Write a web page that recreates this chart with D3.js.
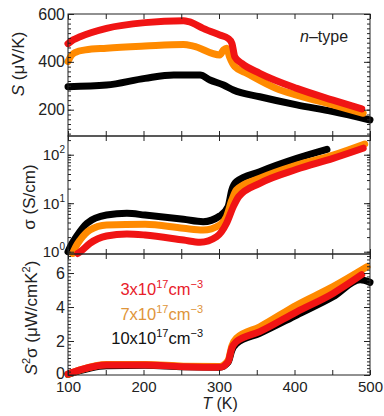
<!DOCTYPE html>
<html>
<head>
<meta charset="utf-8">
<script src="https://cdn.jsdelivr.net/npm/d3@7"></script>
<style>
  body { margin: 0; background: #fff; }
  svg { font-family: "Liberation Sans", Arial, Helvetica, sans-serif; }
  .tick text { font-size: 16px; fill: #222; }
  .tick line { stroke: #222; }
</style>
</head>
<body>
<div id="chart"></div>
<script>
// temperature axis (K)
const tempTicks = [100, 200, 300, 400, 500];

// Seebeck coefficient S (uV/K), one T array per sample
const seebeckT3 = [100, 107, 116, 151, 202, 253, 260, 279, 301, 312, 317, 321, 330, 354, 403, 451, 489];
const seebeck3 = [476, 492, 505, 540, 564, 572, 568, 540, 512, 498, 478, 421, 394, 352, 289, 240, 203];
const seebeckT7 = [100, 104, 110, 123, 151, 202, 253, 266, 301, 306, 310, 314, 321, 337, 376, 403, 451, 491];
const seebeck7 = [401, 425, 440, 450, 457, 466, 473, 466, 429, 450, 457, 421, 380, 352, 289, 261, 220, 185];
const seebeckT10 = [100, 151, 202, 240, 275, 288, 306, 319, 354, 403, 451, 500];
const seebeck10 = [296, 303, 331, 345, 345, 324, 303, 282, 254, 220, 192, 157];

// conductivity sigma (S/cm)
const sigmaT3 = [113, 117, 129, 151, 178, 202, 253, 275, 297, 310, 319, 326, 354, 403, 451, 491];
const sigma3 = [0.92, 1.02, 1.49, 2.11, 2.32, 2.21, 1.74, 1.56, 2.04, 3.85, 8.5, 13.6, 25.7, 50, 84, 136];
const sigmaT7 = [106, 110, 116, 129, 151, 202, 253, 279, 301, 310, 317, 323, 354, 403, 451, 493];
const sigma7 = [0.92, 1.25, 1.74, 2.8, 3.55, 3.67, 3.03, 2.8, 3.55, 5.3, 11.6, 18.7, 32.6, 61, 98, 166];
const sigmaT10 = [100, 105, 111, 125, 151, 178, 202, 253, 279, 301, 312, 317, 323, 354, 403, 443];
const sigma10 = [1.0, 1.45, 2.04, 3.85, 5.7, 6.2, 5.7, 4.66, 4.16, 5.45, 8.5, 18.7, 27.7, 44.7, 84, 129];

// power factor S^2 sigma (uW/cmK^2)
const pfT3 = [100, 116, 151, 202, 253, 301, 312, 317, 323, 354, 403, 451, 489];
const pf3 = [0.06, 0.3, 0.59, 0.59, 0.49, 0.45, 0.78, 1.57, 1.96, 2.55, 3.72, 4.8, 5.9];
const pfT7 = [100, 116, 151, 202, 253, 301, 312, 317, 323, 354, 403, 451, 496];
const pf7 = [0.05, 0.3, 0.62, 0.62, 0.52, 0.5, 0.85, 1.7, 2.16, 2.84, 4.12, 5.2, 6.37];
const pfT10 = [100, 151, 202, 253, 301, 312, 317, 323, 354, 403, 451, 487, 500];
const pf10 = [0.04, 0.55, 0.57, 0.48, 0.46, 0.75, 1.45, 1.85, 2.45, 3.53, 4.6, 5.6, 5.45];

const sampleNames = ["3x10", "7x10", "10x10"];
const colors = ["#f01414", "#ff8a00", "#000000"];
const textColors = ["#e8202a", "#e0953a", "#111111"];

const width = 384, height = 416;
const svg = d3.select("#chart").append("svg")
    .attr("width", width)
    .attr("height", height);

const x = d3.scaleLinear().domain([100, 500]).range([68, 370]);

const yS = d3.scaleLinear().domain([90, 600]).range([136, 14]);
const ySig = d3.scaleLog().domain([0.897, 243]).range([254, 136]);
const yPf = d3.scaleLinear().domain([0, 7.12]).range([375, 254]);

const line = (ys) => d3.line()
    .x(d => x(d[0]))
    .y(d => ys(d[1]))
    .curve(d3.curveMonotoneX);

const zip = (a, b) => a.map((t, i) => [t, b[i]]);

function drawPanel(ys, series, majorY, minorY, fmt) {
  const [y0, y1] = ys.range();
  const g = svg.append("g");

  // curves, black first then orange then red on top
  series.slice().reverse().forEach((s, i) => {
    const idx = series.length - 1 - i;
    g.append("path")
      .attr("d", line(ys)(s))
      .attr("fill", "none")
      .attr("stroke", colors[idx])
      .attr("stroke-width", 7)
      .attr("stroke-linecap", "round")
      .attr("stroke-linejoin", "round");
  });

  // x ticks on bottom and top, inward
  const xTicks = d3.range(100, 501, 50);
  g.append("g").attr("transform", `translate(0,${y0})`)
    .call(d3.axisBottom(x).tickValues(xTicks).tickSize(-5).tickFormat(""))
    .call(a => a.select(".domain").remove());
  g.append("g").attr("transform", `translate(0,${y1})`)
    .call(d3.axisTop(x).tickValues(xTicks).tickSize(-5).tickFormat(""))
    .call(a => a.select(".domain").remove());

  // y ticks left (labelled) and right
  g.append("g").attr("transform", `translate(${x.range()[0]},0)`)
    .call(d3.axisLeft(ys).tickValues(minorY).tickSize(-3).tickFormat(""))
    .call(a => a.select(".domain").remove());
  const leftMajor = g.append("g").attr("transform", `translate(${x.range()[0]},0)`)
    .call(d3.axisLeft(ys).tickValues(majorY).tickSize(-6).tickPadding(3).tickFormat(fmt || d3.format("d")))
    .call(a => a.select(".domain").remove());
  g.append("g").attr("transform", `translate(${x.range()[1]},0)`)
    .call(d3.axisRight(ys).tickValues(minorY).tickSize(-3).tickFormat(""))
    .call(a => a.select(".domain").remove());
  g.append("g").attr("transform", `translate(${x.range()[1]},0)`)
    .call(d3.axisRight(ys).tickValues(majorY).tickSize(-6).tickFormat(""))
    .call(a => a.select(".domain").remove());

  // frame
  g.append("rect")
    .attr("x", x.range()[0]).attr("y", y1)
    .attr("width", x.range()[1] - x.range()[0]).attr("height", y0 - y1)
    .attr("fill", "none").attr("stroke", "#222").attr("stroke-width", 1);

  return leftMajor;
}

// top panel: Seebeck
drawPanel(yS, [zip(seebeckT3, seebeck3), zip(seebeckT7, seebeck7), zip(seebeckT10, seebeck10)],
  [200, 400, 600], d3.range(100, 600, 20));

// middle panel: conductivity (log)
const logMinor = [];
[1, 10, 100].forEach(dec => d3.range(1, 10).forEach(m => {
  const v = dec * m;
  if (v >= 0.897 && v <= 243) logMinor.push(v);
}));
const sigAxis = drawPanel(ySig, [zip(sigmaT3, sigma3), zip(sigmaT7, sigma7), zip(sigmaT10, sigma10)],
  [1, 10, 100], logMinor, () => "");
sigAxis.selectAll(".tick text").each(function(d) {
  const t = d3.select(this);
  t.append("tspan").style("font-size", "15px").text("10");
  t.append("tspan").attr("dy", -7).style("font-size", "10px").text(Math.round(Math.log10(d)));
});

// bottom panel: power factor
const pfAxis = drawPanel(yPf, [zip(pfT3, pf3), zip(pfT7, pf7), zip(pfT10, pf10)],
  [0, 2, 4, 6], d3.range(0, 7.1, 0.2));
// keep the 0 label a bit clear of the 100 below it
pfAxis.selectAll(".tick text").filter(d => d === 0).attr("y", -2);

// x tick labels under bottom panel
svg.append("g")
  .attr("transform", "translate(0,375)")
  .call(d3.axisBottom(x).tickValues(tempTicks).tickSize(0).tickPadding(6).tickFormat(d3.format("d")))
  .call(a => a.select(".domain").remove())
  .call(a => a.selectAll(".tick text").style("font-size", "15px"));

// axis titles
svg.append("text")
  .attr("x", 220).attr("y", 408.5)
  .attr("text-anchor", "middle")
  .style("font-size", "16px").attr("fill", "#222")
  .call(t => {
    t.append("tspan").style("font-style", "italic").text("T");
    t.append("tspan").text(" (K)");
  });

svg.append("text")
  .attr("transform", "translate(24,64) rotate(-90)")
  .attr("text-anchor", "middle")
  .style("font-size", "17px").attr("fill", "#222")
  .call(t => {
    t.append("tspan").style("font-style", "italic").text("S");
    t.append("tspan").text(" (\u03bcV/K)");
  });

svg.append("text")
  .attr("transform", "translate(35,197) rotate(-90)")
  .attr("text-anchor", "middle")
  .style("font-size", "17px").attr("fill", "#222")
  .text("\u03c3 (S/cm)");

svg.append("text")
  .attr("transform", "translate(37,318) rotate(-90)")
  .attr("text-anchor", "middle")
  .style("font-size", "17px").attr("fill", "#222")
  .call(t => {
    t.append("tspan").style("font-style", "italic").text("S");
    t.append("tspan").attr("dy", -7).style("font-size", "11px").text("2");
    t.append("tspan").attr("dy", 7).text("\u03c3 (\u03bcW/cmK");
    t.append("tspan").attr("dy", -7).style("font-size", "11px").text("2");
    t.append("tspan").attr("dy", 7).text(")");
  });

// n-type note
svg.append("text")
  .attr("x", 300).attr("y", 42)
  .style("font-size", "16px").attr("fill", "#222")
  .call(t => {
    t.append("tspan").style("font-style", "italic").text("n");
    t.append("tspan").text("\u2013type");
  });

// legend text
const legendY = [295, 320, 344];
sampleNames.forEach((name, i) => {
  svg.append("text")
    .attr("x", 203).attr("y", legendY[i])
    .attr("text-anchor", "end")
    .style("font-size", "16.5px").attr("fill", textColors[i])
    .call(t => {
      t.append("tspan").text(name);
      t.append("tspan").attr("dy", -7).style("font-size", "11px").text("17");
      t.append("tspan").attr("dy", 7).text("cm");
      t.append("tspan").attr("dy", -7).style("font-size", "11px").text("\u22123");
    });
});
</script>
</body>
</html>
